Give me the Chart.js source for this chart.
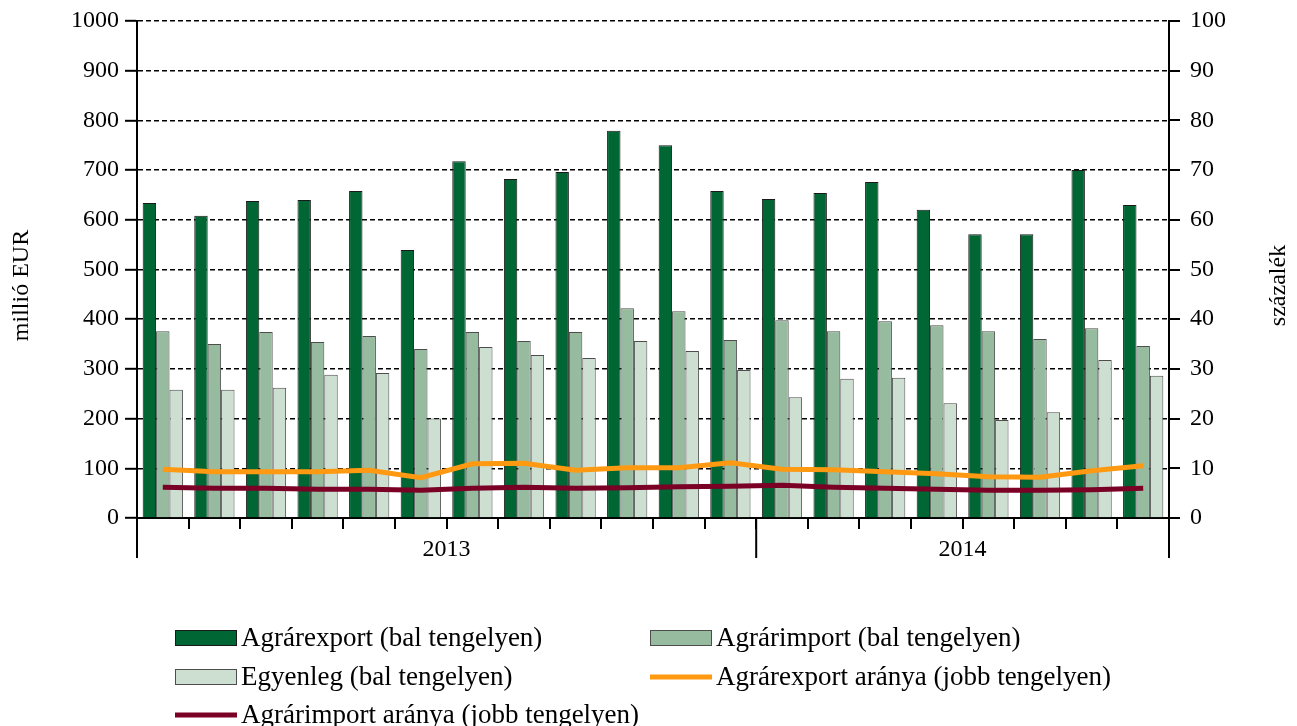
<!DOCTYPE html>
<html>
<head>
<meta charset="utf-8">
<script src="https://cdn.jsdelivr.net/npm/chart.js@4"></script>
<style>
  html, body { margin: 0; padding: 0; background: #fff; }
  #wrap { width: 1297px; height: 726px; }
</style>
</head>
<body>
<div id="wrap"><canvas id="agrarChart" width="1297" height="726"></canvas></div>
<script>
// Months (2013-01 .. 2014-08), year is taken from the label
const months = [
    '2013-01', '2013-02', '2013-03', '2013-04', '2013-05', '2013-06',
    '2013-07', '2013-08', '2013-09', '2013-10', '2013-11', '2013-12',
    '2014-01', '2014-02', '2014-03', '2014-04', '2014-05', '2014-06',
    '2014-07', '2014-08'
];

// millió EUR (left axis)
const exportValues  = [634, 608, 638, 640, 658, 539, 718, 682, 696, 779, 750, 658, 642, 654, 676, 620, 571, 571, 700, 630];
const importValues  = [376, 350, 374, 354, 366, 340, 374, 356, 374, 422, 416, 358, 398, 376, 396, 388, 376, 360, 382, 346];
const balanceValues = [258, 258, 262, 288, 292, 200, 344, 328, 322, 356, 336, 298, 243, 280, 282, 231, 197, 213, 318, 286];

// százalék (right axis)
const exportShare = [9.8, 9.3, 9.3, 9.3, 9.6, 8.1, 10.9, 11.0, 9.6, 10.1, 10.1, 11.1, 9.8, 9.7, 9.3, 8.9, 8.3, 8.2, 9.5, 10.5];
const importShare = [6.2, 6.0, 6.0, 5.8, 5.8, 5.6, 6.0, 6.2, 6.0, 6.1, 6.3, 6.4, 6.6, 6.2, 6.0, 5.8, 5.6, 5.6, 5.7, 6.0];

const leftTicks = { min: 0, max: 1000, step: 100 };
const rightTicks = { min: 0, max: 100, step: 10 };

const FONT = '"Liberation Serif", "Times New Roman", serif';

// Year labels and long separator ticks under the x axis
const yearAxisPlugin = {
    id: 'yearAxis',
    afterDraw(chart) {
        const ctx = chart.ctx;
        const x = chart.scales.x;
        const area = chart.chartArea;
        const half = (x.getPixelForValue(1) - x.getPixelForValue(0)) / 2;

        // group month indices by year
        const groups = [];
        months.forEach((m, i) => {
            const y = m.slice(0, 4);
            const last = groups[groups.length - 1];
            if (last && last.year === y) last.end = i;
            else groups.push({ year: y, start: i, end: i });
        });

        ctx.save();
        ctx.strokeStyle = '#000';
        ctx.lineWidth = 2;
        ctx.fillStyle = '#000';
        ctx.font = '24px ' + FONT;
        ctx.textAlign = 'center';
        ctx.textBaseline = 'middle';
        groups.forEach((g, k) => {
            const left = x.getPixelForValue(g.start) - half;
            const right = x.getPixelForValue(g.end) + half;
            ctx.beginPath();
            ctx.moveTo(left, area.bottom);
            ctx.lineTo(left, area.bottom + 40);
            if (k === groups.length - 1) {
                ctx.moveTo(right, area.bottom);
                ctx.lineTo(right, area.bottom + 40);
            }
            ctx.stroke();
            ctx.fillText(g.year, (left + right) / 2, area.bottom + 32);
        });
        ctx.restore();
    }
};

// Axis titles, both reading bottom to top
const axisTitlePlugin = {
    id: 'axisTitles',
    afterDraw(chart) {
        const ctx = chart.ctx;
        const area = chart.chartArea;
        const midY = (area.top + area.bottom) / 2 + 16;
        ctx.save();
        ctx.fillStyle = '#000';
        ctx.font = '24px ' + FONT;
        ctx.textAlign = 'center';
        ctx.textBaseline = 'middle';
        [[22, 'millió EUR'], [chart.width - 18, 'százalék']].forEach(([px, text]) => {
            ctx.save();
            ctx.translate(px, midY);
            ctx.rotate(-Math.PI / 2);
            ctx.fillText(text, 0, 0);
            ctx.restore();
        });
        ctx.restore();
    }
};

// Two-column legend under the chart
const gridLegendPlugin = {
    id: 'gridLegend',
    afterDraw(chart) {
        const ctx = chart.ctx;
        const colX = [175, 650];
        const rowY = [638, 677, 715];
        ctx.save();
        ctx.font = '27px ' + FONT;
        ctx.textBaseline = 'middle';
        ctx.textAlign = 'left';
        chart.data.datasets.forEach((ds, i) => {
            const x = colX[i % 2];
            const y = rowY[Math.floor(i / 2)];
            if (ds.type === 'line') {
                ctx.strokeStyle = ds.borderColor;
                ctx.lineWidth = 5;
                ctx.beginPath();
                ctx.moveTo(x, y);
                ctx.lineTo(x + 62, y);
                ctx.stroke();
            } else {
                ctx.fillStyle = ds.backgroundColor;
                ctx.fillRect(x, y - 8, 62, 16);
                ctx.strokeStyle = ds.borderColor;
                ctx.lineWidth = 1;
                ctx.strokeRect(x + 0.5, y - 7.5, 61, 15);
            }
            ctx.fillStyle = '#000';
            ctx.fillText(ds.label, x + 66, y + 1);
        });
        ctx.restore();
    }
};

new Chart(document.getElementById('agrarChart'), {
    type: 'bar',
    data: {
        labels: months,
        datasets: [
            {
                label: 'Agrárexport (bal tengelyen)',
                data: exportValues,
                backgroundColor: '#006633',
                borderColor: '#1a1a1a',
                borderWidth: 1,
                yAxisID: 'y',
                order: 2
            },
            {
                label: 'Agrárimport (bal tengelyen)',
                data: importValues,
                backgroundColor: '#96BB9F',
                borderColor: '#4d4d4d',
                borderWidth: 1,
                yAxisID: 'y',
                order: 2
            },
            {
                label: 'Egyenleg (bal tengelyen)',
                data: balanceValues,
                backgroundColor: '#CDDFD1',
                borderColor: '#4d4d4d',
                borderWidth: 1,
                yAxisID: 'y',
                order: 2
            },
            {
                type: 'line',
                label: 'Agrárexport aránya (jobb tengelyen)',
                data: exportShare,
                borderColor: '#FF9912',
                backgroundColor: '#FF9912',
                borderWidth: 5,
                pointRadius: 0,
                tension: 0,
                yAxisID: 'y1',
                order: 1
            },
            {
                type: 'line',
                label: 'Agrárimport aránya (jobb tengelyen)',
                data: importShare,
                borderColor: '#7A0026',
                backgroundColor: '#7A0026',
                borderWidth: 5,
                pointRadius: 0,
                tension: 0,
                yAxisID: 'y1',
                order: 0
            }
        ]
    },
    options: {
        responsive: false,
        animation: false,
        layout: { padding: { top: 21, left: 0, right: 0, bottom: 0 } },
        datasets: {
            bar: { categoryPercentage: 0.78, barPercentage: 1.0 }
        },
        plugins: {
            legend: { display: false },
            tooltip: { enabled: false }
        },
        scales: {
            x: {
                grid: {
                    offset: true,
                    drawOnChartArea: false,
                    color: '#000',
                    lineWidth: 2,
                    tickLength: 11
                },
                border: { color: '#000', width: 2 },
                ticks: { display: false },
                afterFit(scale) { scale.height = 208; }
            },
            y: {
                position: 'left',
                min: leftTicks.min,
                max: leftTicks.max,
                ticks: {
                    stepSize: leftTicks.step,
                    color: '#000',
                    padding: 6,
                    font: { family: FONT, size: 24 },
                    callback: v => String(v)
                },
                grid: {
                    color: '#000',
                    lineWidth: 1.6,
                    tickLength: 12,
                    tickWidth: 2
                },
                border: { color: '#000', width: 2, dash: [5, 3] },
                afterFit(scale) { scale.width = 137; scale.paddingTop = 0; scale.paddingBottom = 0; }
            },
            y1: {
                position: 'right',
                min: rightTicks.min,
                max: rightTicks.max,
                ticks: {
                    stepSize: rightTicks.step,
                    color: '#000',
                    padding: 10,
                    font: { family: FONT, size: 24 },
                    callback: v => String(v)
                },
                grid: {
                    drawOnChartArea: false,
                    color: '#000',
                    lineWidth: 2,
                    tickLength: 11
                },
                border: { color: '#000', width: 2 },
                afterFit(scale) { scale.width = 128; scale.paddingTop = 0; scale.paddingBottom = 0; }
            }
        }
    },
    plugins: [yearAxisPlugin, axisTitlePlugin, gridLegendPlugin]
});
</script>
</body>
</html>
